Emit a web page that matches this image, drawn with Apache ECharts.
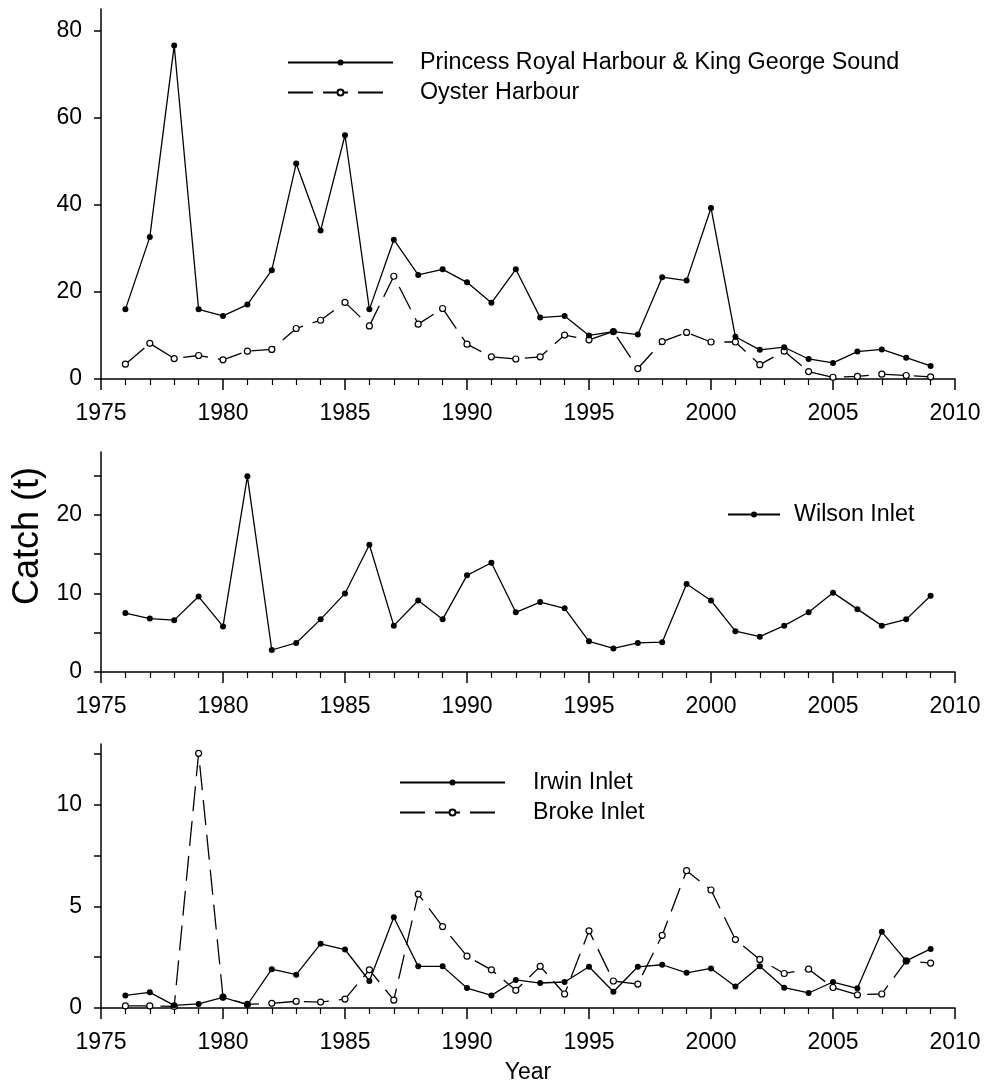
<!DOCTYPE html>
<html>
<head>
<meta charset="utf-8">
<script src="https://cdn.jsdelivr.net/npm/echarts@6/dist/echarts.min.js"></script>
<style>
html, body { margin: 0; padding: 0; background: #fff; }
#chart { width: 985px; height: 1084px; }
</style>
</head>
<body>
<div id="chart"></div>
<script>
// years of catch
var years = [1976, 1977, 1978, 1979, 1980, 1981, 1982, 1983, 1984, 1985,
    1986, 1987, 1988, 1989, 1990, 1991, 1992, 1993, 1994, 1995,
    1996, 1997, 1998, 1999, 2000, 2001, 2002, 2003, 2004, 2005,
    2006, 2007, 2008, 2009];

// top panel
var princess = [16.0, 32.6, 76.6, 16.0, 14.5, 17.1, 25.0, 49.5, 34.1, 56.0,
    16.0, 32.0, 23.9, 25.2, 22.2, 17.5, 25.2, 14.1, 14.5, 10.0,
    10.9, 10.2, 23.4, 22.6, 39.3, 9.7, 6.7, 7.3, 4.6, 3.7,
    6.3, 6.8, 4.9, 3.0];
var oyster = [3.4, 8.2, 4.7, 5.4, 4.4, 6.4, 6.8, 11.6, 13.5, 17.6,
    12.2, 23.6, 12.6, 16.2, 8.0, 5.1, 4.6, 5.1, 10.1, 9.0,
    10.9, 2.4, 8.6, 10.7, 8.5, 8.5, 3.3, 6.4, 1.7, 0.4,
    0.6, 1.1, 0.8, 0.5];

// middle panel
var wilson = [7.5, 6.8, 6.6, 9.6, 5.8, 24.9, 2.8, 3.7, 6.7, 10.0,
    16.2, 5.9, 9.1, 6.7, 12.3, 13.9, 7.6, 8.9, 8.1, 3.9,
    3.0, 3.7, 3.8, 11.2, 9.1, 5.2, 4.5, 5.9, 7.6, 10.1,
    8.0, 5.9, 6.7, 9.7];

// bottom panel
var irwin = [0.62, 0.77, 0.13, 0.2, 0.52, 0.16, 1.91, 1.64, 3.16, 2.88,
    1.33, 4.47, 2.05, 2.05, 0.98, 0.62, 1.38, 1.23, 1.28, 2.03,
    0.80, 2.03, 2.13, 1.73, 1.95, 1.06, 2.06, 1.0, 0.74, 1.28,
    0.97, 3.75, 2.32, 2.91];
var broke = [0.1, 0.1, 0.08, 12.54, 0.54, 0.18, 0.23, 0.33, 0.29, 0.44,
    1.88, 0.39, 5.61, 4.01, 2.55, 1.88, 0.87, 2.05, 0.69, 3.80,
    1.33, 1.18, 3.58, 6.76, 5.81, 3.37, 2.39, 1.70, 1.91, 1.01,
    0.65, 0.69, 2.32, 2.21];

// y ticks / labels per panel
var yTicks1 = [0, 20, 40, 60, 80];
var yLabels1 = [0, 20, 40, 60, 80];
var yTicks2 = [0, 5, 10, 15, 20, 25];
var yLabels2 = [0, 10, 20];
var yTicks3 = [0, 2.5, 5, 7.5, 10, 12.5];
var yLabels3 = [0, 5, 10];
var yMax = [85, 28, 13];

var FONT = 'Liberation Sans, Arial, Helvetica, sans-serif';
var DASH = [25, 10];

function pairs(vals) {
    return years.map(function (y, i) { return [y, vals[i]]; });
}

function xAxis(idx, extra) {
    var ax = {
        type: 'value',
        gridIndex: idx,
        min: 1975,
        max: 2010,
        interval: 5,
        axisLine: { onZero: false, lineStyle: { color: '#000', width: 1.5 } },
        axisTick: { length: 11, lineStyle: { color: '#000', width: 1.5 } },
        minorTick: { show: true, splitNumber: 5, length: 6, lineStyle: { color: '#000', width: 1.2 } },
        minorSplitLine: { show: false },
        splitLine: { show: false },
        axisLabel: {
            color: '#000', fontSize: 23, fontFamily: FONT, margin: 23,
            formatter: function (v) { return String(v); }
        }
    };
    return Object.assign(ax, extra || {});
}

function yAxis(idx, ticks, labels) {
    return {
        type: 'value',
        gridIndex: idx,
        min: 0,
        max: yMax[idx],
        axisLine: { show: true, onZero: false, lineStyle: { color: '#000', width: 1.5 } },
        axisTick: { show: true, length: 7, customValues: ticks, lineStyle: { color: '#000', width: 1.5 } },
        splitLine: { show: false },
        axisLabel: { color: '#000', fontSize: 23, fontFamily: FONT, margin: 19, customValues: labels }
    };
}

function lineSeries(name, vals, idx, open) {
    return {
        name: name,
        type: 'line',
        xAxisIndex: idx,
        yAxisIndex: idx,
        data: pairs(vals),
        symbol: 'circle',
        symbolSize: 6,
        showAllSymbol: true,
        z: open ? 3 : 4,
        lineStyle: { color: '#000', width: 1.3, type: open ? DASH : 'solid' },
        itemStyle: open
            ? { color: '#fff', borderColor: '#000', borderWidth: 1.2 }
            : { color: '#000', borderColor: '#000', borderWidth: 0 }
    };
}

function legend(names, left, top, width, pad) {
    return {
        data: names,
        orient: 'vertical',
        left: left,
        top: top,
        padding: 0,
        itemWidth: width,
        itemHeight: 7.5,
        itemGap: 7,
        selectedMode: false,
        textStyle: { color: '#000', fontSize: 23.3, fontFamily: FONT, lineHeight: 23, padding: [0, 0, 0, pad] }
    };
}

var chart = echarts.init(document.getElementById('chart'));
chart.setOption({
    animation: false,
    backgroundColor: '#fff',
    grid: [
        { left: 101, right: 30, top: 9, height: 370, outerBoundsMode: 'none' },
        { left: 101, right: 30, top: 452, height: 220, outerBoundsMode: 'none' },
        { left: 101, right: 30, top: 744, height: 264, outerBoundsMode: 'none' }
    ],
    xAxis: [
        xAxis(0),
        xAxis(1),
        xAxis(2, { name: 'Year', nameLocation: 'middle', nameGap: 53,
            nameTextStyle: { color: '#000', fontSize: 23, fontFamily: FONT } })
    ],
    yAxis: [
        yAxis(0, yTicks1, yLabels1),
        yAxis(1, yTicks2, yLabels2),
        yAxis(2, yTicks3, yLabels3)
    ],
    legend: [
        legend(['Princess Royal Harbour & King George Sound', 'Oyster Harbour'], 287, 51, 105, 22),
        legend(['Wilson Inlet'], 727, 503, 52, 9),
        legend(['Irwin Inlet', 'Broke Inlet'], 399, 771, 105, 23)
    ],
    graphic: [{
        type: 'text',
        x: 28,
        y: 536,
        rotation: Math.PI / 2,
        style: { text: 'Catch (t)', fill: '#000', font: '36px ' + FONT, align: 'center', verticalAlign: 'middle' }
    }],
    series: [
        lineSeries('Princess Royal Harbour & King George Sound', princess, 0, false),
        lineSeries('Oyster Harbour', oyster, 0, true),
        lineSeries('Wilson Inlet', wilson, 1, false),
        lineSeries('Irwin Inlet', irwin, 2, false),
        lineSeries('Broke Inlet', broke, 2, true)
    ]
});
</script>
</body>
</html>
